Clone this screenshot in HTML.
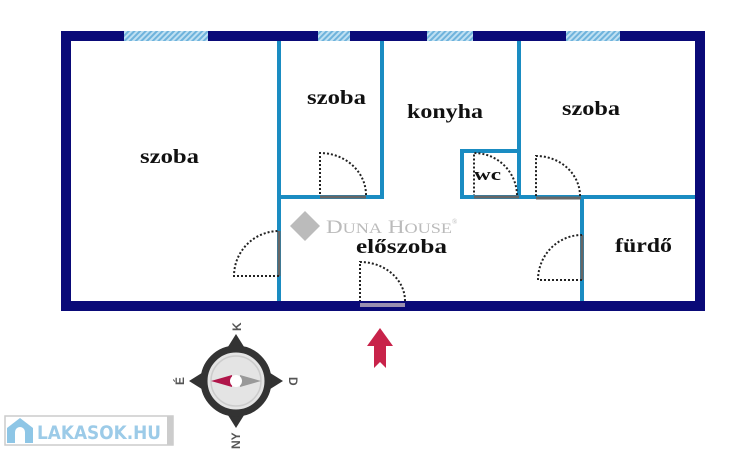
<!DOCTYPE html><html><head><style>body{margin:0;background:#fff;width:746px;height:450px;overflow:hidden}</style></head><body>
<svg width="746" height="450" xmlns="http://www.w3.org/2000/svg" font-family="Liberation Serif, serif">
<defs><pattern id="h" width="4" height="4" patternUnits="userSpaceOnUse" patternTransform="rotate(45)"><rect width="4" height="4" fill="#bfe0f2"/><rect width="2" height="4" fill="#6fb3dc"/></pattern></defs>
<rect x="66" y="36" width="634" height="270" fill="none" stroke="#0a0a78" stroke-width="10"/>
<rect x="124" y="31" width="84" height="10" fill="url(#h)"/>
<rect x="318" y="31" width="32" height="10" fill="url(#h)"/>
<rect x="427" y="31" width="46" height="10" fill="url(#h)"/>
<rect x="566" y="31" width="54" height="10" fill="url(#h)"/>
<g stroke="#1a8cc2" stroke-width="4" fill="none">
<line x1="279" y1="41" x2="279" y2="301"/>
<line x1="382" y1="41" x2="382" y2="199"/>
<line x1="279" y1="197" x2="384" y2="197"/>
<line x1="519" y1="41" x2="519" y2="197"/>
<polyline points="519,151 462,151 462,197 695,197"/>
<line x1="582" y1="197" x2="582" y2="301"/>
</g>
<g stroke="#666" stroke-width="3">
<line x1="320" y1="197" x2="366" y2="197"/>
<line x1="279" y1="231" x2="279" y2="276"/>
<line x1="474" y1="197" x2="519" y2="197"/>
<line x1="536" y1="198" x2="581" y2="198"/>
<line x1="582" y1="235" x2="582" y2="280"/>
<line x1="360" y1="305" x2="405" y2="305" stroke="#9a8fb0" stroke-width="4"/>
</g>
<g stroke="#222" stroke-width="2" stroke-dasharray="2,2" fill="none">
<path d="M366,195 A46,42 0 0 0 320,153 L320,195"/>
<path d="M279,276 L234,276 A45,45 0 0 1 279,231"/>
<path d="M405,301 A45,39 0 0 0 360,262 L360,301"/>
<path d="M517,195 A43,43 0 0 0 474,153 L474,195"/>
<path d="M580,196 A44,40 0 0 0 536,156 L536,196"/>
<path d="M582,280 L538,280 A44,45 0 0 1 582,235"/>
</g>
<g font-weight="bold" font-size="20" fill="#111" lengthAdjust="spacingAndGlyphs">
<text x="140" y="163" textLength="59" lengthAdjust="spacingAndGlyphs">szoba</text>
<text x="307" y="104" textLength="59" lengthAdjust="spacingAndGlyphs">szoba</text>
<text x="407" y="118" textLength="76" lengthAdjust="spacingAndGlyphs">konyha</text>
<text x="562" y="115" textLength="58" lengthAdjust="spacingAndGlyphs">szoba</text>
<text x="474" y="180" font-size="17" textLength="27" lengthAdjust="spacingAndGlyphs">wc</text>
<text x="356" y="253" textLength="91" lengthAdjust="spacingAndGlyphs">előszoba</text>
<text x="615" y="252" textLength="57" lengthAdjust="spacingAndGlyphs">fürdő</text>
</g>
<g fill="#bbb"><path d="M305,211 L320,226 L305,241 L290,226Z"/><text x="326" y="233" font-size="19" fill="#bbb" textLength="126" lengthAdjust="spacingAndGlyphs">D<tspan font-size="15">UNA</tspan> H<tspan font-size="15">OUSE</tspan></text><text x="452" y="224" font-size="7">®</text></g>
<path d="M380,328 L393,346 L386,346 L386,368 L380,362 L374,368 L374,346 L367,346Z" fill="#c8234a"/>
<g>
<path d="M236,334 L246,350 L226,350Z M236,428 L246,412 L226,412Z M189,381 L205,371 L205,391Z M283,381 L267,371 L267,391Z" fill="#333"/>
<circle cx="236" cy="381" r="32" fill="#e4e4e4" stroke="#333" stroke-width="7"/>
<circle cx="236" cy="381" r="25" fill="none" stroke="#ccc" stroke-width="1.5"/>
<path d="M211,381 L232,375 L232,387Z" fill="#b0164a"/><path d="M261,381 L240,375 L240,387Z" fill="#999"/>
<circle cx="236" cy="381" r="6" fill="#fff"/>
<g font-family="Liberation Sans, sans-serif" font-weight="bold" font-size="12" fill="#555">
<text transform="translate(241,326) rotate(-90)" x="-5">K</text>
<text transform="translate(289,381) rotate(90)" x="-4">D</text>
<text transform="translate(184,381) rotate(-90)" x="-4">É</text>
<text transform="translate(240,440) rotate(-90)" x="-9">NY</text>
</g></g>
<rect x="5" y="416" width="168" height="29" fill="#fff" stroke="#ccc" stroke-width="1.5"/>
<rect x="167" y="416" width="6" height="29" fill="#ccc"/>
<path d="M7,428 L20,418 L33,428 L33,443 L7,443Z" fill="#8ec6e6"/><path d="M15,443 L15,432 A5,5 0 0 1 25,432 L25,443Z" fill="#fff"/>
<text x="37" y="439" font-family="DejaVu Sans, sans-serif" font-weight="bold" font-size="19" fill="#9ccbe8" textLength="124" lengthAdjust="spacingAndGlyphs">LAKASOK.HU</text>
</svg></body></html>
